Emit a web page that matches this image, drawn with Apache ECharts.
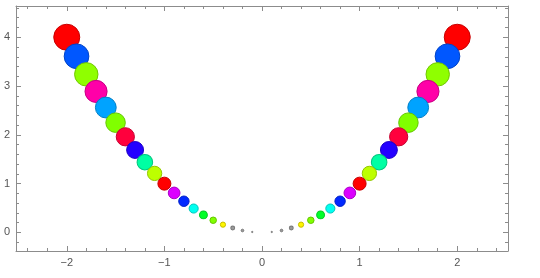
<!DOCTYPE html>
<html>
<head>
<meta charset="utf-8">
<script src="https://cdn.jsdelivr.net/npm/echarts@6/dist/echarts.min.js"></script>
<style>
html,body{margin:0;padding:0;background:#fff;}
#chart{width:540px;height:278px;}
</style>
</head>
<body>
<div id="chart"></div>
<script>
const xValues = [-2,-1.9,-1.8,-1.7,-1.6,-1.5,-1.4,-1.3,-1.2,-1.1,-1,-0.9,-0.8,-0.7,-0.6,-0.5,-0.4,-0.3,-0.2,-0.1,0,0.1,0.2,0.3,0.4,0.5,0.6,0.7,0.8,0.9,1,1.1,1.2,1.3,1.4,1.5,1.6,1.7,1.8,1.9,2];
const yValues = [4,3.61,3.24,2.89,2.56,2.25,1.96,1.69,1.44,1.21,1,0.81,0.64,0.49,0.36,0.25,0.16,0.09,0.04,0.01,0,0.01,0.04,0.09,0.16,0.25,0.36,0.49,0.64,0.81,1,1.21,1.44,1.69,1.96,2.25,2.56,2.89,3.24,3.61,4];
const bubbleSizes = [2,1.9,1.8,1.7,1.6,1.5,1.4,1.3,1.2,1.1,1,0.9,0.8,0.7,0.6,0.5,0.4,0.3,0.2,0.1,0,0.1,0.2,0.3,0.4,0.5,0.6,0.7,0.8,0.9,1,1.1,1.2,1.3,1.4,1.5,1.6,1.7,1.8,1.9,2];
const pointColors = ['#ff0000','#0057ff','#8fff00','#ff00a8','#00a3ff','#80ff00','#ff003d','#2400ff','#00ffa3','#bdff00','#ff0000','#db00ff','#0029ff','#00fff0','#00ff29','#80ff00','#fff500','#ff8a00','#ff3d00','#ff0f00','#ff0000','#ff0f00','#ff3d00','#ff8a00','#fff500','#80ff00','#00ff29','#00fff0','#0029ff','#db00ff','#ff0000','#bdff00','#00ffa3','#2400ff','#ff003d','#80ff00','#00a3ff','#ff00a8','#8fff00','#0057ff','#ff0000'];
const xMajorTicks = [-2,-1,0,1,2];
const xMinorTicks = [-2.4,-2.2,-1.8,-1.6,-1.4,-1.2,-0.8,-0.6,-0.4,-0.2,0.2,0.4,0.6,0.8,1.2,1.4,1.6,1.8,2.2,2.4];
const yMajorTicks = [0,1,2,3,4];
const yMinorTicks = [-0.2,0.2,0.4,0.6,0.8,1.2,1.4,1.6,1.8,2.2,2.4,2.6,2.8,3.2,3.4,3.6,3.8,4.2,4.4,4.6];

const X_MIN = -2.52, X_MAX = 2.52, Y_MIN = -0.38, Y_MAX = 4.64;
const FRAME = '#8c8c8c';

function darker(hex, f) {
  const n = parseInt(hex.slice(1), 16);
  const r = Math.round(((n >> 16) & 255) * f), g = Math.round(((n >> 8) & 255) * f), b = Math.round((n & 255) * f);
  return 'rgb(' + r + ',' + g + ',' + b + ')';
}
function fmt(v) { return v < 0 ? '\u2212' + Math.abs(v) : String(v); }

function axis(kind, position, ticks, len, labels, line) {
  return {
    type: 'value', position: position,
    min: kind === 'x' ? X_MIN : Y_MIN, max: kind === 'x' ? X_MAX : Y_MAX,
    axisLine: { show: line, onZero: false, lineStyle: { color: FRAME, width: 1 } },
    axisTick: { show: true, inside: true, length: len, customValues: ticks, lineStyle: { color: FRAME, width: 1 } },
    axisLabel: labels ? { show: true, customValues: ticks, formatter: fmt, color: '#555', fontSize: 11, fontFamily: 'Liberation Sans, Arial, sans-serif', margin: 6 } : { show: false },
    splitLine: { show: false }
  };
}

const data = [];
for (let i = 0; i < xValues.length; i++) {
  data.push({ value: [xValues[i], yValues[i], bubbleSizes[i]], idx: i });
}
data.sort((a, b) => b.value[2] - a.value[2]);
const seriesData = data.map(d => {
  const c = pointColors[d.idx];
  const tiny = d.value[2] < 0.35;
  return {
    value: d.value,
    itemStyle: {
      color: tiny ? '#9a9a9a' : c,
      borderColor: tiny ? '#777' : darker(c, 0.78),
      borderWidth: 1,
      opacity: 1
    }
  };
});

const chart = echarts.init(document.getElementById('chart'), null, { renderer: 'canvas' });
chart.setOption({
  animation: false,
  backgroundColor: '#fff',
  grid: { left: 16, right: 32, top: 6, bottom: 27, containLabel: false },
  xAxis: [
    axis('x', 'bottom', xMajorTicks, 5, true, true),
    axis('x', 'bottom', xMinorTicks, 3, false, false),
    axis('x', 'top', xMajorTicks, 5, false, true),
    axis('x', 'top', xMinorTicks, 3, false, false)
  ],
  yAxis: [
    axis('y', 'left', yMajorTicks, 5, true, true),
    axis('y', 'left', yMinorTicks, 3, false, false),
    axis('y', 'right', yMajorTicks, 5, false, true),
    axis('y', 'right', yMinorTicks, 3, false, false)
  ],
  series: [{
    type: 'scatter',
    xAxisIndex: 0, yAxisIndex: 0,
    symbol: 'circle',
    symbolSize: v => v[2] * 13,
    itemStyle: { opacity: 1 },
    data: seriesData
  }]
});
</script>
</body>
</html>
